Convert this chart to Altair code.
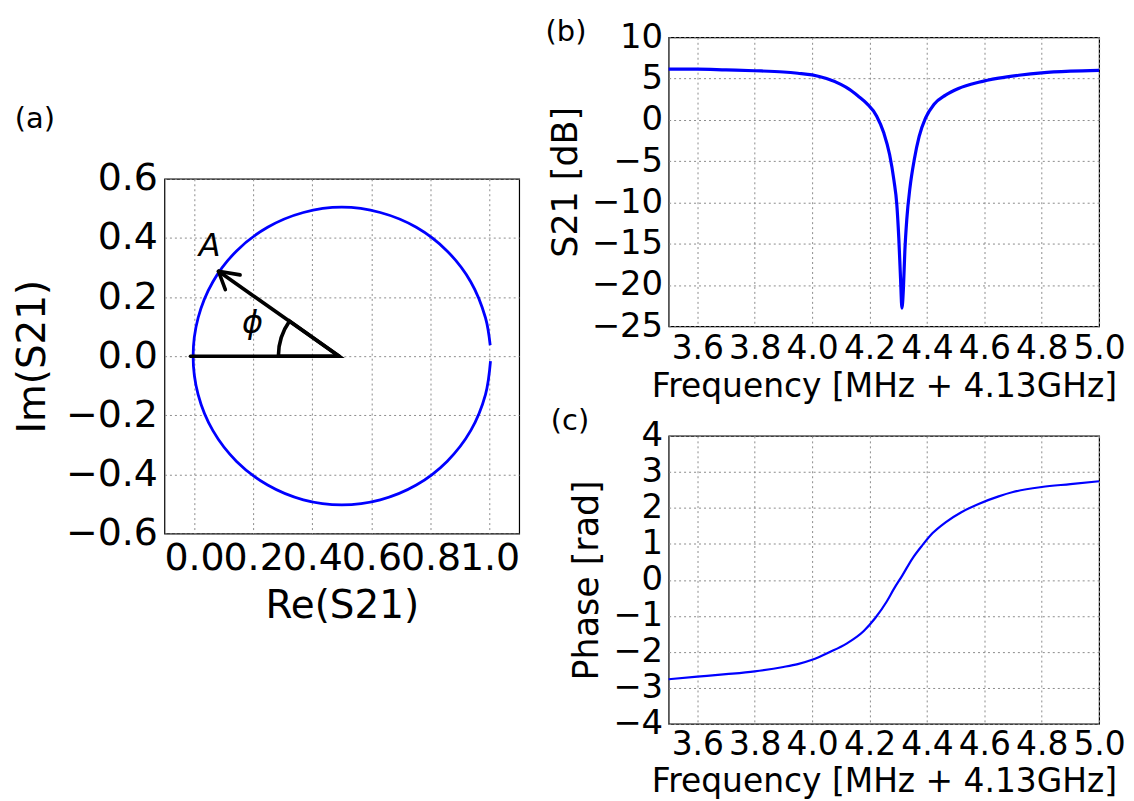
import altair as alt
import pandas as pd

# ---------------- data ----------------
# (a) S21 in the complex plane (circle, with a small gap near 1.0)
circle_re = [1.002, 0.986, 0.936, 0.856, 0.752, 0.630, 0.500, 0.370, 0.249, 0.144,
             0.064, 0.014, -0.003, 0.014, 0.064, 0.144, 0.249, 0.370, 0.500, 0.630,
             0.752, 0.856, 0.936, 0.986, 1.003]
circle_im = [0.037, 0.130, 0.252, 0.356, 0.436, 0.486, 0.504, 0.486, 0.436, 0.356,
             0.252, 0.130, 0.000, -0.130, -0.252, -0.356, -0.436, -0.486, -0.503, -0.486,
             -0.436, -0.356, -0.252, -0.130, -0.017]

# annotation segments: horizontal radius, arrow A, two arrow-head barbs
seg_x = [0.491, 0.491, 0.083, 0.083]
seg_y = [0.000, 0.000, 0.287, 0.287]
seg_x2 = [-0.012, 0.083, 0.156, 0.106]
seg_y2 = [0.000, 0.287, 0.275, 0.225]

# angle arc (radians, vega convention) centred on the circle centre
arc_cx = [0.491]
arc_cy = [0.0]
arc_t1 = [4.712]
arc_t2 = [5.327]

ann_text = ["A", "ϕ"]
ann_x = [0.053, 0.198]
ann_y = [0.371, 0.112]

# (b) S21 magnitude
freq_b = [3.50, 3.60, 3.70, 3.80, 3.90, 3.95, 4.00, 4.05, 4.10, 4.13, 4.16, 4.19,
          4.225, 4.25, 4.27, 4.285, 4.295, 4.302, 4.308, 4.313, 4.318, 4.323, 4.330,
          4.341, 4.356, 4.373, 4.395, 4.425, 4.465, 4.51, 4.58, 4.65, 4.72, 4.80,
          4.90, 5.00]
s21_db = [6.15, 6.15, 6.05, 5.95, 5.80, 5.65, 5.45, 5.00, 4.30, 3.70, 2.90, 2.00,
          0.45, -1.60, -4.20, -7.30, -10.2, -14.3, -19.1, -22.8, -20.5, -16.0, -12.0,
          -8.2, -4.8, -2.0, 0.2, 1.9, 3.0, 3.8, 4.55, 5.05, 5.40, 5.70,
          5.90, 6.00]

# (c) phase
freq_c = [3.50, 3.60, 3.70, 3.80, 3.90, 3.95, 4.00, 4.06, 4.12, 4.18, 4.22, 4.26,
          4.285, 4.314, 4.35, 4.384, 4.42, 4.465, 4.52, 4.58, 4.65, 4.70, 4.80,
          4.90, 5.00]
phase = [-2.76, -2.69, -2.62, -2.54, -2.42, -2.34, -2.22, -2.01, -1.77, -1.42, -1.06, -0.60,
         -0.25, 0.12, 0.60, 0.96, 1.30, 1.60, 1.88, 2.11, 2.32, 2.44, 2.58,
         2.66, 2.74]

re_ticks = [0.0, 0.2, 0.4, 0.6, 0.8, 1.0]
im_ticks = [-0.6, -0.4, -0.2, 0.0, 0.2, 0.4, 0.6]
f_ticks = [3.6, 3.8, 4.0, 4.2, 4.4, 4.6, 4.8, 5.0]
db_ticks = [-25, -20, -15, -10, -5, 0, 5, 10]
ph_ticks = [-4, -3, -2, -1, 0, 1, 2, 3, 4]

panel_labels = ["(a)", "(b)", "(c)"]

# ---------------- styling ----------------
BLUE = "#0000ff"
FONT = "DejaVu Sans"
GRID = dict(grid=True, gridDash=[2, 3], gridColor="#8c8c8c", gridWidth=1,
            ticks=False, domain=False, labelOverlap=False, labelFlush=False,
            labelBound=False, labelColor="black", titleColor="black",
            labelFont=FONT, titleFont=FONT, titleFontWeight="normal")
LABFONT = "DejaVu Sans"
LABSIZE = 29

one = pd.DataFrame({"k": [0]})

# ---------------- panel (a) ----------------
circ = pd.DataFrame({"re": circle_re, "im": circle_im, "i": list(range(len(circle_re)))})
segs = pd.DataFrame({"x": seg_x, "y": seg_y, "x2": seg_x2, "y2": seg_y2})
arcd = pd.DataFrame({"cx": arc_cx, "cy": arc_cy, "t1": arc_t1, "t2": arc_t2})
ann = pd.DataFrame({"t": ann_text, "x": ann_x, "y": ann_y})

xa = alt.X("re:Q", scale=alt.Scale(domain=[-0.1, 1.1], nice=False, zero=False),
           axis=alt.Axis(values=re_ticks, format=".1f", title="Re(S21)",
                         labelFontSize=38, titleFontSize=39, labelPadding=6,
                         titlePadding=9, **GRID))
ya = alt.Y("im:Q", scale=alt.Scale(domain=[-0.6, 0.6], nice=False, zero=False),
           axis=alt.Axis(values=im_ticks, format=".1f", title="Im(S21)",
                         labelFontSize=38, titleFontSize=39, labelPadding=7,
                         titlePadding=13, **GRID))

circle_line = alt.Chart(circ).mark_line(color=BLUE, strokeWidth=2.8,
                                         interpolate="catmull-rom").encode(
    x=xa, y=ya, order="i:Q")

seg_rules = alt.Chart(segs).mark_rule(color="black", strokeWidth=3.6,
                                      strokeCap="round").encode(
    x=alt.X("x:Q"), y=alt.Y("y:Q"), x2="x2:Q", y2="y2:Q")

arc_mark = alt.Chart(arcd).mark_arc(filled=False, stroke="black", strokeWidth=3.6).encode(
    x=alt.X("cx:Q"), y=alt.Y("cy:Q"),
    theta=alt.Theta("t1:Q", scale=None), theta2="t2:Q",
    radius=alt.value(61))

ann_text_mark = alt.Chart(ann).mark_text(font=FONT, fontStyle="italic", fontSize=32,
                                         color="black").encode(
    x=alt.X("x:Q"), y=alt.Y("y:Q"), text="t:N")

lab_a = alt.Chart(pd.DataFrame({"t": [panel_labels[0]]})).mark_text(
    font=LABFONT, fontSize=LABSIZE, color="black", align="center",
    baseline="middle").encode(x=alt.value(-130), y=alt.value(-60), text="t:N")

box_a = alt.Chart(one).mark_rect(opacity=0).encode(
    x=alt.value(-154), x2=alt.value(366), y=alt.value(-20), y2=alt.value(0))

panel_a = alt.layer(box_a, circle_line, seg_rules, arc_mark, ann_text_mark, lab_a).properties(
    width=356, height=356)

spacer = alt.Chart(one).mark_rect(opacity=0).encode(
    x=alt.value(0), x2=alt.value(356), y=alt.value(-25), y2=alt.value(0)
).properties(width=356, height=142, view=alt.ViewBackground(stroke="transparent"))

col_a = alt.vconcat(spacer, panel_a, spacing=0, bounds="flush")

# ---------------- panel (b) ----------------
dfb = pd.DataFrame({"f": freq_b, "v": s21_db})
fx = dict(scale=alt.Scale(domain=[3.5, 5.0], nice=False, zero=False))

xb = alt.X("f:Q", **fx,
           axis=alt.Axis(values=f_ticks, format=".1f", title="Frequency [MHz + 4.13GHz]",
                         labelFontSize=33, titleFontSize=33, labelPadding=6,
                         titlePadding=5, **GRID))
yb = alt.Y("v:Q", scale=alt.Scale(domain=[-25, 10], nice=False, zero=False),
           axis=alt.Axis(values=db_ticks, format="d", title="S21 [dB]",
                         labelFontSize=34, titleFontSize=35, labelPadding=6,
                         titlePadding=8, **GRID))

line_b = alt.Chart(dfb).mark_line(color=BLUE, strokeWidth=3.2, interpolate="monotone").encode(
    x=xb, y=yb)
lab_b = alt.Chart(pd.DataFrame({"t": [panel_labels[1]]})).mark_text(
    font=LABFONT, fontSize=LABSIZE, color="black", align="center",
    baseline="middle").encode(x=alt.value(-103), y=alt.value(-5), text="t:N")
box_b = alt.Chart(one).mark_rect(opacity=0).encode(
    x=alt.value(-128), x2=alt.value(0), y=alt.value(-25), y2=alt.value(0))

panel_b = alt.layer(box_b, line_b, lab_b).properties(width=432, height=290)

# ---------------- panel (c) ----------------
dfc = pd.DataFrame({"f": freq_c, "v": phase})
xc = alt.X("f:Q", **fx,
           axis=alt.Axis(values=f_ticks, format=".1f", title="Frequency [MHz + 4.13GHz]",
                         labelFontSize=33, titleFontSize=33, labelPadding=5,
                         titlePadding=4, **GRID))
yc = alt.Y("v:Q", scale=alt.Scale(domain=[-4, 4], nice=False, zero=False),
           axis=alt.Axis(values=ph_ticks, format="d", title="Phase [rad]",
                         labelFontSize=34, titleFontSize=35, labelPadding=6,
                         titlePadding=8, **GRID))
line_c = alt.Chart(dfc).mark_line(color=BLUE, strokeWidth=2.2, interpolate="monotone").encode(
    x=xc, y=yc)
lab_c = alt.Chart(pd.DataFrame({"t": [panel_labels[2]]})).mark_text(
    font=LABFONT, fontSize=LABSIZE, color="black", align="center",
    baseline="middle").encode(x=alt.value(-99), y=alt.value(-15), text="t:N")

panel_c = alt.layer(line_c, lab_c).properties(width=432, height=289)

right = alt.vconcat(panel_b, panel_c, spacing=110, bounds="flush")

chart = alt.hconcat(col_a, right, spacing=10).properties(
    padding={"left": 2, "top": 2, "right": 0, "bottom": 0},
    background="white",
).configure_view(stroke="black", strokeWidth=1.2)

chart.save("out.html", embed_options={"renderer": "svg", "actions": False})
